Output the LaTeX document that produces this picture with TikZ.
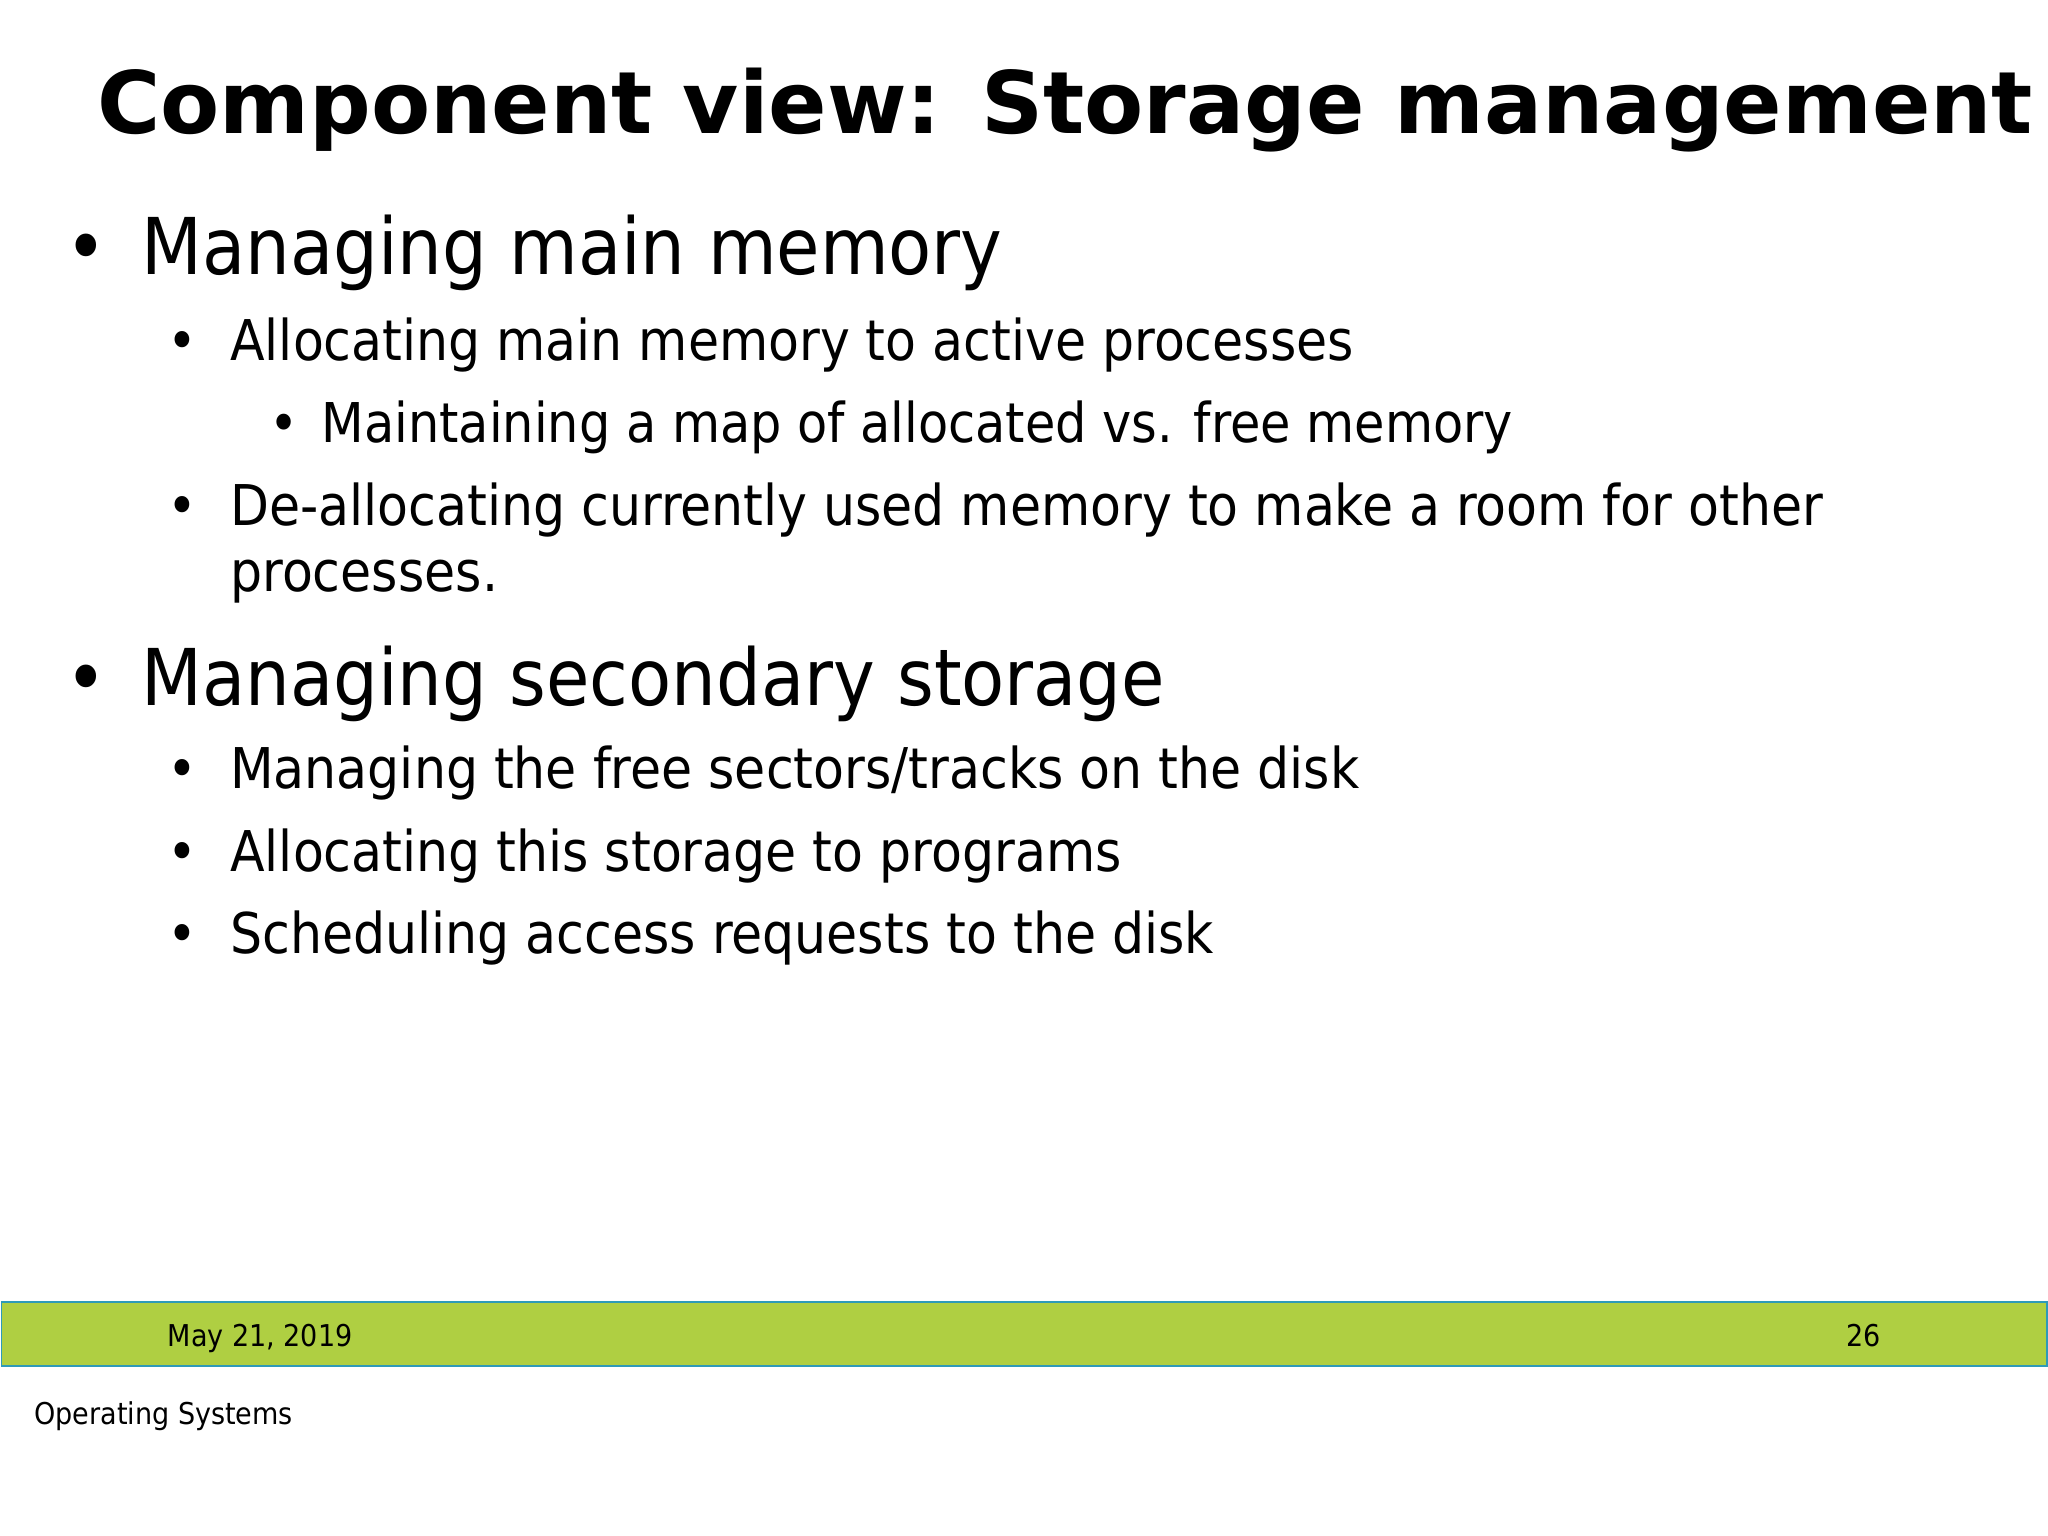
\documentclass[tikz,border=0pt]{standalone}
\usepackage{fontspec}
\setmainfont{DejaVu Sans}
\newfontfamily\bodyf{DejaVu Sans Condensed}
\definecolor{barg}{HTML}{AFCF42}
\definecolor{barb}{HTML}{2E9AB8}
\begin{document}
\begin{tikzpicture}[x=0.5pt,y=-0.5pt,
  lone/.style={anchor=base west,font=\bodyf\fontsize{30}{36}\selectfont,inner sep=0},
  ltwo/.style={anchor=base west,font=\bodyf\fontsize{21.5}{27}\selectfont,inner sep=0},
  lthree/.style={anchor=base west,font=\bodyf\fontsize{21}{26}\selectfont,inner sep=0},
  foot/.style={anchor=base west,font=\bodyf\fontsize{11.5}{14}\selectfont,inner sep=0}]
\useasboundingbox (0,0) rectangle (1568,1176);
\node[anchor=base west,inner sep=0,font=\bfseries\fontsize{33}{40}\selectfont] (title) at (74,102) {Component view: Storage management};
\node[lone] (b1) at (50,210) {•};
\node[lone] (t1) at (108,210) {Managing main memory};
\node[ltwo] (b2) at (128,276) {•};
\node[ltwo] (t2) at (176,276) {Allocating main memory to active processes};
\node[lthree] (b3) at (206,339) {•};
\node[lthree] (t3) at (246,339) {Maintaining a map of allocated vs. free memory};
\node[ltwo] (b4) at (128,402) {•};
\node[ltwo] (t4) at (176,402) {De-allocating currently used memory to make a room for other};
\node[ltwo] (t4b) at (176,453) {processes.};
\node[lone] (b5) at (50,540) {•};
\node[lone] (t5) at (108,540) {Managing secondary storage};
\node[ltwo] (b6) at (128,604) {•};
\node[ltwo] (t6) at (176,604) {Managing the free sectors/tracks on the disk};
\node[ltwo] (b7) at (128,667) {•};
\node[ltwo] (t7) at (176,667) {Allocating this storage to programs};
\node[ltwo] (b8) at (128,730) {•};
\node[ltwo] (t8) at (176,730) {Scheduling access requests to the disk};
\fill[barg,draw=barb,line width=0.6pt] (1,997) rectangle (1567,1046);
\node[foot] (date) at (128,1031) {May 21, 2019};
\node[foot] (num) at (1413,1031) {26};
\node[foot] (os) at (26,1091) {Operating Systems};
\end{tikzpicture}
\end{document}
